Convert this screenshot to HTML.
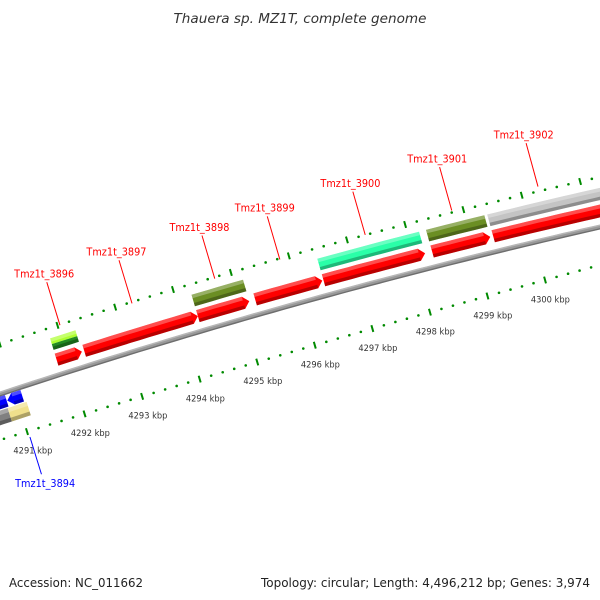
<!DOCTYPE html>
<html><head><meta charset="utf-8"><style>
html,body{margin:0;padding:0;background:#fff;}
svg{display:block;font-family:"DejaVu Sans","Liberation Sans",sans-serif;}
</style></head><body>
<svg id="map" width="600" height="600" viewBox="0 0 600 600" xmlns="http://www.w3.org/2000/svg" style="overflow:hidden">
<rect width="600" height="600" fill="#fff"/>
<text x="300" y="23" text-anchor="middle" font-size="13" font-style="italic" fill="#333" textLength="253" lengthAdjust="spacingAndGlyphs">Thauera sp. MZ1T, complete genome</text>
<g id="layer"></g>
<text x="9" y="587" font-size="12" fill="#222" textLength="134" lengthAdjust="spacingAndGlyphs">Accession: NC_011662</text>
<text x="590" y="587" text-anchor="end" font-size="12" fill="#222" textLength="329" lengthAdjust="spacingAndGlyphs">Topology: circular; Length: 4,496,212 bp; Genes: 3,974</text>
</svg>
<script>
// ---- data ----
var rulerLabels = [4291,4292,4293,4294,4295,4296,4297,4298,4299,4300];
var geneNames  = ["Tmz1t_3896","Tmz1t_3897","Tmz1t_3898","Tmz1t_3899","Tmz1t_3900","Tmz1t_3901","Tmz1t_3902"];
var geneStarts = [4291.82,4292.30,4294.27,4295.26,4296.44,4298.31,4299.36];
var geneEnds   = [4292.26,4294.27,4295.16,4296.42,4298.19,4299.31,4301.80];
var geneCogs   = [["#adff2f","#228b22"],[],["#6b8e23"],[],["#2affa8"],["#6b8e23"],["#c4c4c4"]];
var revNames  = ["Tmz1t_3893","Tmz1t_3894"];
var revStarts = [4290.40,4290.84];
var revEnds   = [4290.83,4291.10];
var revCogs   = ["#808080","#f0e08c"];
var revCogStarts = [4290.40,4290.81];
var revCogEnds   = [4290.81,4291.14];
var labelledRev = 1;

// ---- geometry ----
var NS="http://www.w3.org/2000/svg";
var layer=document.getElementById('layer');
function rulerY(x){return 440-0.3117*x+3.34e-5*x*x;}
function rulerSlope(x){return -0.3117+2*3.34e-5*x;}
function kToX(k){return 27+(k-4291)*57.56;}
function quad(y0,y1,y2){ // through x=0,310,600
  var c=((y2-y0)/600-(y1-y0)/310)/(600-310); var b=(y1-y0)/310-c*310;
  return function(x){return y0+b*x+c*x*x;};
}
var T={
  backbone:quad(394,300,227), red:quad(378,284,211), cog:quad(361,267,194),
  ticks:quad(344,250,177), rev1:quad(403,309,236), rev2:quad(418,324,251), ruler:rulerY
};
function pt(k,track,off){
  var xr=kToX(k), yr=rulerY(xr), m=rulerSlope(xr), L=Math.sqrt(1+m*m);
  var nx=m/L, ny=-1/L, t=0;
  if(track!=='ruler'){for(var i=0;i<8;i++){var x=xr+t*nx; t=(T[track](x)-yr)/ny;}}
  t+=off;
  return [xr+t*nx, yr+t*ny];
}
function el(tag,attrs){var e=document.createElementNS(NS,tag);for(var a in attrs)e.setAttribute(a,attrs[a]);layer.appendChild(e);return e;}
function band(k1,k2,track,o1,o2){
  var pts=[],n=Math.max(2,Math.ceil((k2-k1)*6)),i;
  for(i=0;i<=n;i++)pts.push(pt(k1+(k2-k1)*i/n,track,o2));
  for(i=n;i>=0;i--)pts.push(pt(k1+(k2-k1)*i/n,track,o1));
  return pts.map(function(p){return p[0].toFixed(1)+','+p[1].toFixed(1);}).join(' ');
}
function arrowPts(k1,k2,track,h,dir){
  var tip=0.1, pts=[],n=Math.max(2,Math.ceil((k2-k1)*6)),i,b1=k1,b2=k2;
  if(dir>0)b2=k2-tip; else b1=k1+tip;
  for(i=0;i<=n;i++)pts.push(pt(b1+(b2-b1)*i/n,track,h/2));
  if(dir>0)pts.push(pt(k2,track,0));
  for(i=n;i>=0;i--)pts.push(pt(b1+(b2-b1)*i/n,track,-h/2));
  if(dir<0)pts.push(pt(k1,track,0));
  return pts.map(function(p){return p[0].toFixed(1)+','+p[1].toFixed(1);}).join(' ');
}
function shade(k1,k2,track,h,name){
  var a=el('polygon',{points:band(k1,k2,track,h/2-h*0.3,h/2),fill:'#fff','fill-opacity':0.3});
  
  
  var b=el('polygon',{points:band(k1,k2,track,-h/2,-h/2+h*0.28),fill:'#000','fill-opacity':0.28});
  
  
}

// backbone
var bb=el('polygon',{points:band(4289.5,4302.5,'backbone',-2.5,2.5),fill:'#999'});


shade(4289.5,4302.5,'backbone',5,'genome-backbone');

// ticks (ruler and outer row)
['ruler','ticks'].forEach(function(tr){
  for(var k=4289.6;k<=4302.01;k+=0.2){
    var kk=Math.round(k*10)/10, major=Math.abs(kk-Math.round(kk))<0.01, e;
    if(major){var p1=pt(kk,tr,-3.5),p2=pt(kk,tr,3.5);
      e=el('line',{x1:p1[0],y1:p1[1],x2:p2[0],y2:p2[1],stroke:'#008a00','stroke-width':2});
      
    }else{var p=pt(kk,tr,0);
      e=el('circle',{cx:p[0],cy:p[1],r:1.3,fill:'#008a00'});
      
    }
    
  }
});
rulerLabels.forEach(function(k){
  var p=pt(k,'ruler',-20);
  var t=el('text',{x:p[0],y:p[1]+3,'text-anchor':'middle','font-size':9,fill:'#333',textLength:39,lengthAdjust:'spacingAndGlyphs'});
  t.textContent=k+' kbp';
  
  
});

// forward genes
geneNames.forEach(function(nm,i){
  var s=geneStarts[i], e=geneEnds[i];
  var g=el('polygon',{points:arrowPts(s,e,'red',12.5,1),fill:'#ff0000'});
  
  
  shade(s,e-0.1,'red',12.5,'gene-'+nm);
  var cogs=geneCogs[i];
  if(cogs.length==1){
    var c=el('polygon',{points:band(s,e,'cog',-6,6),fill:cogs[0]});
    
    
    shade(s,e,'cog',12,'cog-'+nm);
  }else if(cogs.length==2){
    var c1=el('polygon',{points:band(s,e,'cog',0,6),fill:cogs[0]});
    
    
    var c2=el('polygon',{points:band(s,e,'cog',-6,0),fill:cogs[1]});
    
    
    shade(s,e,'cog',12,'cog-'+nm);
  }
  var km=(s+Math.min(e,4301.3))/2; if(i==6)km=4300.3;
  var a=pt(km,'ruler',92), b=pt(km,'ruler',137), tp=pt(km,'ruler',146);
  var ln=el('line',{x1:a[0],y1:a[1],x2:b[0],y2:b[1],stroke:'#ff0000','stroke-width':1});
  
  
  var tx=el('text',{x:tp[0],y:tp[1]+4,'text-anchor':'middle','font-size':11,fill:'#ff0000',textLength:60,lengthAdjust:'spacingAndGlyphs'});
  tx.textContent=nm;
  
  
});

// reverse genes
revNames.forEach(function(nm,i){
  var g=el('polygon',{points:arrowPts(revStarts[i],revEnds[i],'rev1',12,-1),fill:'#0000ff'});
  
  
  shade(revStarts[i]+0.1,revEnds[i],'rev1',12,'gene-'+nm);
  var c=el('polygon',{points:band(revCogStarts[i],revCogEnds[i],'rev2',-7,7),fill:revCogs[i]});
  
  
  shade(revCogStarts[i],revCogEnds[i],'rev2',14,'cog-'+nm);
});
(function(){
  var i=labelledRev, km=(revStarts[i]+revEnds[i])/2+0.05;
  var a=pt(km,'ruler',-6), b=pt(km,'ruler',-45), tp=pt(km,'ruler',-54);
  var ln=el('line',{x1:a[0],y1:a[1],x2:b[0],y2:b[1],stroke:'#0000ff','stroke-width':1});
  
  
  var tx=el('text',{x:tp[0]+1,y:tp[1]+4,'text-anchor':'middle','font-size':11,fill:'#0000ff',textLength:60,lengthAdjust:'spacingAndGlyphs'});
  tx.textContent=revNames[i];
  
  
})();
</script>
</body></html>
